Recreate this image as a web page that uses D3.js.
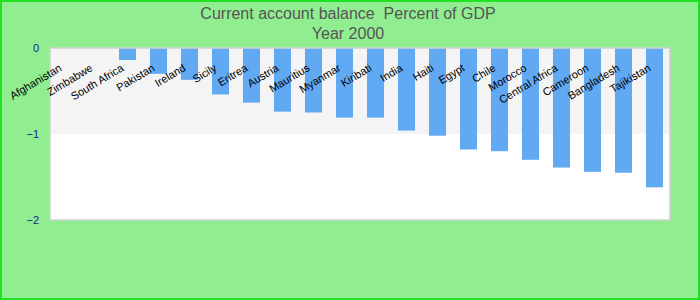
<!DOCTYPE html>
<html><head><meta charset="utf-8">
<script src="https://cdn.jsdelivr.net/npm/d3@7"></script>
<style>html,body{margin:0;padding:0;background:#90ee90;}svg{display:block;}</style>
</head><body>
<svg id="chart" width="700" height="300"></svg>
<script>
const categories = ["Afghanistan","Zimbabwe","South Africa","Pakistan","Ireland","Sicily","Eritrea","Austria","Mauritius","Myanmar","Kiribati","India","Haiti","Egypt","Chile","Morocco","Central Africa","Cameroon","Bangladesh","Tajikistan"];
const values = [0,0,-0.14,-0.30,-0.37,-0.54,-0.635,-0.74,-0.75,-0.81,-0.81,-0.96,-1.02,-1.18,-1.20,-1.30,-1.39,-1.44,-1.45,-1.62];
const yTicks = [0,-1,-2];
const titleLines = ["Current account balance  Percent of GDP","Year 2000"];

const W=700,H=300;
const m={l:50,r:30,t:48,b:80};
const svg=d3.select("#chart");
svg.append("rect").attr("x",1).attr("y",1).attr("width",W-2).attr("height",H-2)
  .attr("fill","#90ee90").attr("stroke","#22e022").attr("stroke-width",2);

const x=d3.scaleBand().domain(categories).range([m.l,W-m.r]).paddingInner(0.45).paddingOuter(0.225);
const y=d3.scaleLinear().domain([0,-2]).range([m.t,H-m.b]);

// plot background bands
const g=svg.append("g");
g.append("rect").attr("x",m.l).attr("y",y(0)).attr("width",W-m.r-m.l).attr("height",y(-2)-y(0)).attr("fill","#ffffff");
g.append("rect").attr("x",m.l).attr("y",y(0)).attr("width",W-m.r-m.l).attr("height",y(-1)-y(0)).attr("fill","#f4f4f4");

// bars
g.selectAll("rect.bar").data(values).join("rect").attr("class","bar")
  .attr("x",(d,i)=>x(categories[i]))
  .attr("y",d=>y(Math.max(0,d)))
  .attr("width",x.bandwidth())
  .attr("height",d=>Math.abs(y(d)-y(0)))
  .attr("fill","#62a9f4");

// border
g.append("rect").attr("x",m.l).attr("y",y(0)).attr("width",W-m.r-m.l).attr("height",y(-2)-y(0))
  .attr("fill","none").attr("stroke","#cfcfcf").attr("stroke-width",1.5);

// y axis labels
const ya=svg.append("g").attr("transform",`translate(${m.l-11},0)`)
  .call(d3.axisLeft(y).tickValues(yTicks).tickSize(0).tickPadding(0).tickFormat(d3.format("d")));
ya.select(".domain").remove();
ya.selectAll("text").attr("fill","#1a1a9a").style("font-family","Liberation Sans, Arial, sans-serif").style("font-size","11px");

// x labels
const xa=svg.append("g").attr("transform",`translate(0,${m.t})`)
  .call(d3.axisTop(x).tickSize(0).tickPadding(0));
xa.select(".domain").remove();
xa.selectAll("text")
  .attr("fill","#000")
  .style("font-family","Liberation Sans, Arial, sans-serif").style("font-size","11px")
  .attr("text-anchor","end")
  .attr("transform","translate(-3,22) rotate(-31)")
  .attr("x",0).attr("y",0).attr("dy","0");

// title
svg.append("g").selectAll("text").data(titleLines).join("text")
  .attr("x",348).attr("y",(d,i)=>19+i*20)
  .attr("text-anchor","middle")
  .attr("fill","#555555")
  .attr("xml:space","preserve")
  .style("white-space","pre")
  .style("font-family","Liberation Sans, Arial, sans-serif").style("font-size","16px")
  .text(d=>d);
</script>
</body></html>
